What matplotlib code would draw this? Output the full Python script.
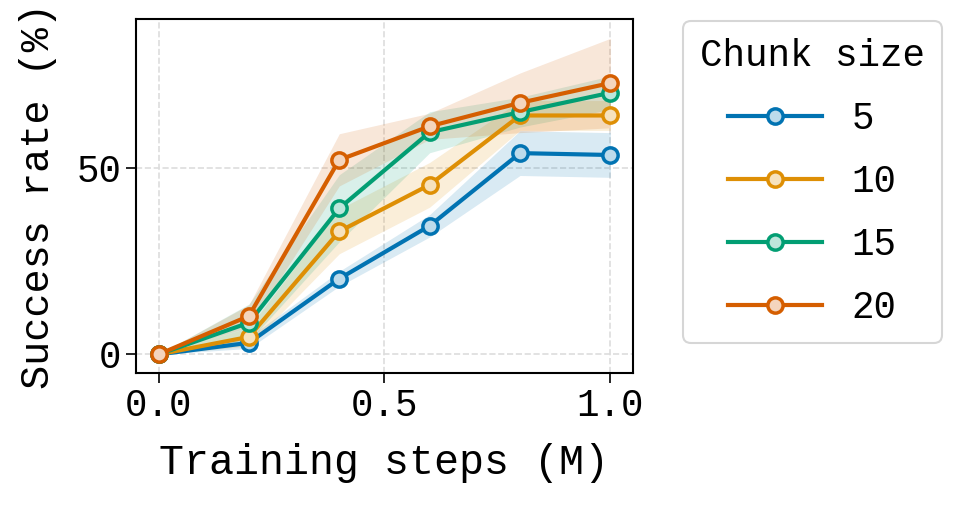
import numpy as np
import matplotlib
matplotlib.use("Agg")
import matplotlib.pyplot as plt
from matplotlib.colors import to_rgb

plt.rcParams['font.family'] = ['Liberation Mono', 'DejaVu Sans Mono']

steps = [0.0, 0.2, 0.4, 0.6, 0.8, 1.0]
chunk_sizes = ["5", "10", "15", "20"]
mean_5 = [0.0, 3.1, 20.3, 34.5, 54.0, 53.5]
mean_10 = [0.0, 4.7, 33.0, 45.5, 64.1, 64.1]
mean_15 = [0.0, 8.5, 39.2, 59.6, 65.0, 70.2]
mean_20 = [0.0, 10.3, 52.2, 61.2, 67.5, 72.8]
std_5 = [0.0, 1.5, 2.0, 3.0, 6.0, 6.0]
std_10 = [0.0, 2.5, 6.0, 6.0, 4.0, 4.0]
std_15 = [0.0, 5.0, 9.0, 5.5, 4.0, 4.5]
std_20 = [0.0, 3.0, 7.0, 3.5, 8.0, 12.0]

means = [mean_5, mean_10, mean_15, mean_20]
stds = [std_5, std_10, std_15, std_20]
colors = ["#0173b2", "#de8f05", "#029e73", "#d55e00"]

fig = plt.figure(figsize=(9.67, 5.08), dpi=100)
ax = fig.add_axes([0.1406, 0.2657, 0.514, 0.697])

for lab, m, s, c in zip(chunk_sizes, means, stds, colors):
    m = np.array(m); s = np.array(s)
    rgb = np.array(to_rgb(c))
    face = rgb + (1 - rgb) * 0.74
    ax.fill_between(steps, m - s, m + s, color=c, alpha=0.15, linewidth=0)
    ax.plot(steps, m, color=c, lw=3, marker="o", markersize=11,
            markerfacecolor=face, markeredgecolor=c, markeredgewidth=2.5, label=lab)

ax.set_xlim(-0.05, 1.05)
ax.set_ylim(-5, 90)
ax.set_xticks([0.0, 0.5, 1.0])
ax.set_xticklabels(["0.0", "0.5", "1.0"])
ax.set_yticks([0, 50])
ax.grid(True, linestyle="--", color="#dddddd", linewidth=1.2)
ax.set_axisbelow(True)
ax.tick_params(labelsize=27, length=7, width=1.2)
for sp in ax.spines.values():
    sp.set_linewidth(1.5)
ax.set_xlabel("Training steps (M)", fontsize=30, labelpad=14)
ax.set_ylabel("Success rate (%)", fontsize=29, labelpad=14)

leg = ax.legend(title="Chunk size", fontsize=27, title_fontsize=27,
                loc="upper left", bbox_to_anchor=(683 / 967, 1 - 21 / 508),
                bbox_transform=fig.transFigure, frameon=True, fancybox=True,
                edgecolor="#cccccc", handlelength=2.5, labelspacing=0.72,
                borderpad=0.45, borderaxespad=0)
leg.get_frame().set_linewidth(1.5)

fig.savefig("out.png", dpi=100)
